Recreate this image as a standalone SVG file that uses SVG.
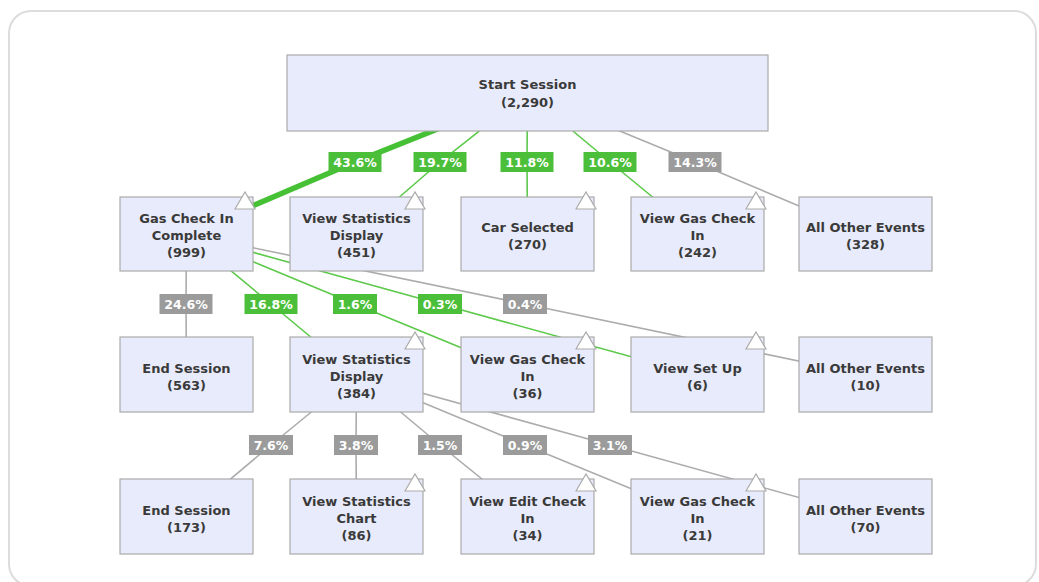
<svg xmlns="http://www.w3.org/2000/svg" width="1039" height="582" viewBox="0 0 1039 582">
<style>
.frame{fill:#fff;stroke:#dcdcdc;stroke-width:2}
.box{fill:#e8ebfb;stroke:#ababab;stroke-width:1.2}
.tri{fill:#fff;stroke:#ababab;stroke-width:1.2}
.nt{font-family:"DejaVu Sans",Verdana,sans-serif;font-weight:bold;font-size:13px;fill:#3a3a3a;text-anchor:middle}
.lt{font-family:"DejaVu Sans",Verdana,sans-serif;font-weight:bold;font-size:12.5px;fill:#fff;text-anchor:middle}
.g{fill:none;stroke:#5cc94a;stroke-width:1.6}
.gk{fill:none;stroke:#46c034;stroke-width:5.5}
.r{fill:none;stroke:#acacac;stroke-width:1.6}
.lg{fill:#4cbf3a}
.lr{fill:#9b9b9b}
</style>
<rect class="frame" x="9" y="11" width="1027" height="575" rx="22" ry="22"/>
<g id="connectors">
<polyline class="gk" points="527.5,93 355,162 186.5,234"/>
<polyline class="g" points="527.5,93 440,162 356.5,234"/>
<polyline class="g" points="527.5,93 527,162 527.5,234"/>
<polyline class="g" points="527.5,93 610,162 697.5,234"/>
<polyline class="r" points="527.5,93 695,162 865.5,234"/>
<polyline class="r" points="186.5,234 186,304 186.5,375"/>
<polyline class="g" points="186.5,234 271,304 356.5,375"/>
<polyline class="g" points="186.5,234 355,304 527.5,375"/>
<polyline class="g" points="186.5,234 440,304 697.5,375"/>
<polyline class="r" points="186.5,234 525,304 865.5,375"/>
<polyline class="r" points="356.5,375 271,445 186.5,516"/>
<polyline class="r" points="356.5,375 356,445 356.5,516"/>
<polyline class="r" points="356.5,375 440,445 527.5,516"/>
<polyline class="r" points="356.5,375 525,445 697.5,516"/>
<polyline class="r" points="356.5,375 610,445 865.5,516"/>
<g id="labels">
<rect class="lg" x="328.5" y="152" width="53" height="20"/><text class="lt" x="355" y="166.5">43.6%</text>
<rect class="lg" x="413.5" y="152" width="53" height="20"/><text class="lt" x="440" y="166.5">19.7%</text>
<rect class="lg" x="500.5" y="152" width="53" height="20"/><text class="lt" x="527" y="166.5">11.8%</text>
<rect class="lg" x="583.5" y="152" width="53" height="20"/><text class="lt" x="610" y="166.5">10.6%</text>
<rect class="lr" x="668.5" y="152" width="53" height="20"/><text class="lt" x="695" y="166.5">14.3%</text>
<rect class="lr" x="159.5" y="294" width="53" height="20"/><text class="lt" x="186" y="308.5">24.6%</text>
<rect class="lg" x="244.5" y="294" width="53" height="20"/><text class="lt" x="271" y="308.5">16.8%</text>
<rect class="lg" x="333" y="294" width="44" height="20"/><text class="lt" x="355" y="308.5">1.6%</text>
<rect class="lg" x="418" y="294" width="44" height="20"/><text class="lt" x="440" y="308.5">0.3%</text>
<rect class="lr" x="503" y="294" width="44" height="20"/><text class="lt" x="525" y="308.5">0.4%</text>
<rect class="lr" x="249" y="435" width="44" height="20"/><text class="lt" x="271" y="449.5">7.6%</text>
<rect class="lr" x="334" y="435" width="44" height="20"/><text class="lt" x="356" y="449.5">3.8%</text>
<rect class="lr" x="418" y="435" width="44" height="20"/><text class="lt" x="440" y="449.5">1.5%</text>
<rect class="lr" x="503" y="435" width="44" height="20"/><text class="lt" x="525" y="449.5">0.9%</text>
<rect class="lr" x="588" y="435" width="44" height="20"/><text class="lt" x="610" y="449.5">3.1%</text>
</g>
</g>
<g id="start">
<rect class="box" x="287" y="55" width="481" height="76"/>
<text class="nt" x="527.5" y="89">Start Session</text>
<text class="nt" x="527.5" y="107">(2,290)</text>
</g>
<g id="gas-check-complete">
<rect class="box" x="120" y="197" width="133" height="74"/>
<polygon class="tri" points="235,209 245,192 255,209"/>
<text class="nt" x="186.5" y="222.5">Gas Check In</text>
<text class="nt" x="186.5" y="239.5">Complete</text>
<text class="nt" x="186.5" y="256.5">(999)</text>
</g>
<g id="view-stats-1">
<rect class="box" x="290" y="197" width="133" height="74"/>
<polygon class="tri" points="405,209 415,192 425,209"/>
<text class="nt" x="356.5" y="222.5">View Statistics</text>
<text class="nt" x="356.5" y="239.5">Display</text>
<text class="nt" x="356.5" y="256.5">(451)</text>
</g>
<g id="car-selected">
<rect class="box" x="461" y="197" width="133" height="74"/>
<polygon class="tri" points="576,209 586,192 596,209"/>
<text class="nt" x="527.5" y="231.5">Car Selected</text>
<text class="nt" x="527.5" y="248.5">(270)</text>
</g>
<g id="view-gas-1">
<rect class="box" x="631" y="197" width="133" height="74"/>
<polygon class="tri" points="746,209 756,192 766,209"/>
<text class="nt" x="697.5" y="222.5">View Gas Check</text>
<text class="nt" x="697.5" y="239.5">In</text>
<text class="nt" x="697.5" y="256.5">(242)</text>
</g>
<g id="other-1">
<rect class="box" x="799" y="197" width="133" height="74"/>
<text class="nt" x="865.5" y="231.5">All Other Events</text>
<text class="nt" x="865.5" y="248.5">(328)</text>
</g>
<g id="end-session-2">
<rect class="box" x="120" y="337" width="133" height="75"/>
<text class="nt" x="186.5" y="372.5">End Session</text>
<text class="nt" x="186.5" y="389.5">(563)</text>
</g>
<g id="view-stats-2">
<rect class="box" x="290" y="337" width="133" height="75"/>
<polygon class="tri" points="405,349 415,332 425,349"/>
<text class="nt" x="356.5" y="363.5">View Statistics</text>
<text class="nt" x="356.5" y="380.5">Display</text>
<text class="nt" x="356.5" y="397.5">(384)</text>
</g>
<g id="view-gas-2">
<rect class="box" x="461" y="337" width="133" height="75"/>
<polygon class="tri" points="576,349 586,332 596,349"/>
<text class="nt" x="527.5" y="363.5">View Gas Check</text>
<text class="nt" x="527.5" y="380.5">In</text>
<text class="nt" x="527.5" y="397.5">(36)</text>
</g>
<g id="view-setup">
<rect class="box" x="631" y="337" width="133" height="75"/>
<polygon class="tri" points="746,349 756,332 766,349"/>
<text class="nt" x="697.5" y="372.5">View Set Up</text>
<text class="nt" x="697.5" y="389.5">(6)</text>
</g>
<g id="other-2">
<rect class="box" x="799" y="337" width="133" height="75"/>
<text class="nt" x="865.5" y="372.5">All Other Events</text>
<text class="nt" x="865.5" y="389.5">(10)</text>
</g>
<g id="end-session-3">
<rect class="box" x="120" y="479" width="133" height="75"/>
<text class="nt" x="186.5" y="514.5">End Session</text>
<text class="nt" x="186.5" y="531.5">(173)</text>
</g>
<g id="view-stats-chart">
<rect class="box" x="290" y="479" width="133" height="75"/>
<polygon class="tri" points="405,491 415,474 425,491"/>
<text class="nt" x="356.5" y="505.5">View Statistics</text>
<text class="nt" x="356.5" y="522.5">Chart</text>
<text class="nt" x="356.5" y="539.5">(86)</text>
</g>
<g id="view-edit">
<rect class="box" x="461" y="479" width="133" height="75"/>
<polygon class="tri" points="576,491 586,474 596,491"/>
<text class="nt" x="527.5" y="505.5">View Edit Check</text>
<text class="nt" x="527.5" y="522.5">In</text>
<text class="nt" x="527.5" y="539.5">(34)</text>
</g>
<g id="view-gas-3">
<rect class="box" x="631" y="479" width="133" height="75"/>
<polygon class="tri" points="746,491 756,474 766,491"/>
<text class="nt" x="697.5" y="505.5">View Gas Check</text>
<text class="nt" x="697.5" y="522.5">In</text>
<text class="nt" x="697.5" y="539.5">(21)</text>
</g>
<g id="other-3">
<rect class="box" x="799" y="479" width="133" height="75"/>
<text class="nt" x="865.5" y="514.5">All Other Events</text>
<text class="nt" x="865.5" y="531.5">(70)</text>
</g>
</svg>
